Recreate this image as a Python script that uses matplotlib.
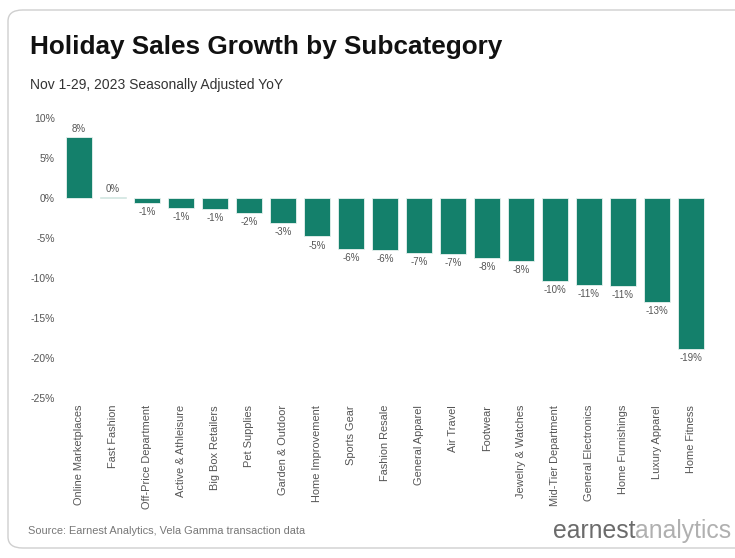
import matplotlib
matplotlib.use("Agg")
import matplotlib.pyplot as plt
from matplotlib.patches import FancyBboxPatch

plt.rcParams['font.family'] = ['Liberation Sans', 'DejaVu Sans']

categories = ["Online Marketplaces", "Fast Fashion", "Off-Price Department",
              "Active & Athleisure", "Big Box Retailers", "Pet Supplies",
              "Garden & Outdoor", "Home Improvement", "Sports Gear",
              "Fashion Resale", "General Apparel", "Air Travel", "Footwear",
              "Jewelry & Watches", "Mid-Tier Department", "General Electronics",
              "Home Furnishings", "Luxury Apparel", "Home Fitness"]
values = [7.6, 0.1, -0.6, -1.25, -1.35, -1.9, -3.1, -4.8, -6.4, -6.5,
          -6.9, -7.0, -7.5, -7.9, -10.4, -10.9, -11.0, -13.0, -18.9]
yticks = [10, 5, 0, -5, -10, -15, -20, -25]

BAR = "#14806B"
GREY = "#555555"

fig = plt.figure(figsize=(7.35, 5.58), dpi=100)
fig.patch.set_facecolor("white")

card = FancyBboxPatch((8/735, 10/558), 760/735, 538/558,
                      boxstyle="round,pad=0,rounding_size=0.02",
                      transform=fig.transFigure, facecolor="white",
                      edgecolor="#cfcfcf", linewidth=1.0, zorder=-5)
fig.patches.append(card)

ax = fig.add_axes([62/735, 1 - 398/558, 646/735, 280/558])
ax.set_zorder(2)
ax.set_facecolor("none")
x = list(range(len(categories)))
ax.bar(x, values, width=0.78, color=BAR, edgecolor="#e8f2ef", linewidth=0.6)
ax.set_xlim(-0.5, len(categories) - 0.5)
ax.set_ylim(-25, 10)
ax.set_yticks(yticks)
ax.set_yticklabels([f"{t}%" for t in yticks], fontsize=7.5, color=GREY)
ax.set_xticks(x)
ax.set_xticklabels(categories, rotation=90, fontsize=7.9, color=GREY, va="top")
ax.tick_params(axis="y", length=0, pad=5)
ax.tick_params(axis="x", length=0, pad=5)
for s in ax.spines.values():
    s.set_visible(False)

for xi, v in zip(x, values):
    lab = f"{round(v):.0f}%"
    if v >= 0:
        ax.annotate(lab, (xi, v), xytext=(0, 2.5), textcoords="offset points",
                    ha="center", va="bottom", fontsize=7, color=GREY)
    else:
        ax.annotate(lab, (xi, v), xytext=(0, -3), textcoords="offset points",
                    ha="center", va="top", fontsize=7, color=GREY)

fig.text(30/735, 1 - 47/558, "Holiday Sales Growth by Subcategory",
         fontsize=18.8, fontweight="bold", color="#111111", va="center", ha="left")
fig.text(30/735, 1 - 85/558, "Nov 1-29, 2023 Seasonally Adjusted YoY",
         fontsize=10, color="#333333", va="center", ha="left")
fig.text(28/735, 1 - 531/558, "Source: Earnest Analytics, Vela Gamma transaction data",
         fontsize=7.9, color="#777777", va="center", ha="left")

t1 = fig.text(553/735, 1 - 531/558, "earnest", fontsize=17.8, color="#6b6b6b",
              va="center", ha="left")
fig.canvas.draw()
bb = t1.get_window_extent()
fig.text(bb.x1 / 735, 1 - 531/558, "analytics", fontsize=17.8, color="#b0b0b0",
         va="center", ha="left")

fig.savefig("out.png", dpi=100)
